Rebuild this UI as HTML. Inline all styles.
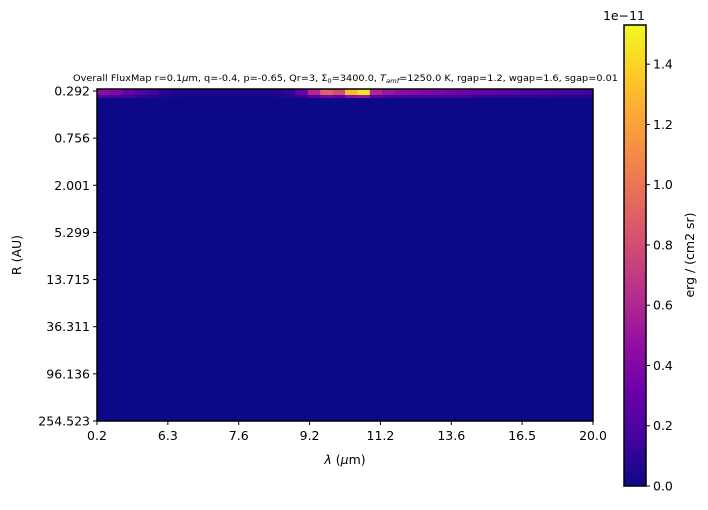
<!DOCTYPE html>
<html><head><meta charset="utf-8"><style>
body{margin:0;background:#fff;}
svg text{font-family:"DejaVu Sans","Liberation Sans",sans-serif;}
</style></head><body>
<svg id="c" width="708" height="505" xmlns="http://www.w3.org/2000/svg">
<defs>
<linearGradient id="pl" x1="0" y1="1" x2="0" y2="0">
<stop offset="0" stop-color="#0d0887"/><stop offset="0.1" stop-color="#41049d"/><stop offset="0.2" stop-color="#6a00a8"/><stop offset="0.3" stop-color="#8f0da4"/><stop offset="0.4" stop-color="#b12a90"/><stop offset="0.5" stop-color="#cc4778"/><stop offset="0.6" stop-color="#e16462"/><stop offset="0.7" stop-color="#f2844b"/><stop offset="0.8" stop-color="#fca636"/><stop offset="0.9" stop-color="#fcce25"/><stop offset="1" stop-color="#f0f921"/>
</linearGradient>
</defs>
<g id="plot"></g>
</svg>
<script>
const xTickLabels=["0.2","6.3","7.6","9.2","11.2","13.6","16.5","20.0"];
const yTickLabels=["0.292","0.756","2.001","5.299","13.715","36.311","96.136","254.523"];
const cbTicks=[0,0.2,0.4,0.6,0.8,1.0,1.2,1.4];
const topRow=[0.45,0.4,0.3,0.2,0.15,0.08,0.05,0.04,0.04,0.04,0.04,0.04,0.05,0.05,0.06,0.1,0.3,0.6,0.9,0.8,1.3,1.45,0.6,0.5,0.45,0.42,0.4,0.38,0.35,0.33,0.3,0.28,0.26,0.25,0.22,0.2,0.2,0.18,0.16,0.15];
const secondRow=[0.2,0.18,0.14,0.1,0.07,0.04,0.03,0.02,0.02,0.02,0.02,0.02,0.02,0.02,0.03,0.05,0.12,0.25,0.35,0.3,0.45,0.5,0.25,0.2,0.18,0.17,0.16,0.15,0.14,0.13,0.12,0.11,0.1,0.1,0.09,0.08,0.08,0.07,0.07,0.06];
const vmax=1.53;
const stops=[[13,8,135],[65,4,157],[106,0,168],[143,13,164],[177,42,144],[204,71,120],[225,100,98],[242,132,75],[252,166,54],[252,206,37],[240,249,33]];
function cmap(v){let t=Math.max(0,Math.min(1,v/vmax))*10;let i=Math.min(9,Math.floor(t)),f=t-i;const a=stops[i],b=stops[i+1];return `rgb(${a.map((x,k)=>Math.round(x+(b[k]-x)*f)).join(',')})`;}
const X0=97,X1=593,Y0=89,Y1=421;
const svg=document.getElementById('c'),g=document.getElementById('plot');
const NS="http://www.w3.org/2000/svg";
function mk(t,at,txt){const e=document.createElementNS(NS,t);for(const k in at)e.setAttribute(k,at[k]);if(txt!=null)e.textContent=txt;g.appendChild(e);return e;}
const xs=i=>X0+(X1-X0)*i/(xTickLabels.length-1);
const ys=i=>91+(Y1-91)*i/(yTickLabels.length-1);
let bg=mk('rect',{x:X0,y:Y0,width:X1-X0,height:Y1-Y0,fill:cmap(0)});


const cw=(X1-X0)/topRow.length;
topRow.forEach((v,i)=>{const r=mk('rect',{x:X0+i*cw,y:Y0,width:cw+0.5,height:6,fill:cmap(v)});

});
secondRow.forEach((v,i)=>{const r=mk('rect',{x:X0+i*cw,y:Y0+6,width:cw+0.5,height:3,fill:cmap(v)});

});
let fr=mk('rect',{x:X0,y:Y0,width:X1-X0,height:Y1-Y0,fill:'none',stroke:'#000','stroke-width':1.5});


xTickLabels.forEach((l,i)=>{mk('line',{x1:xs(i),x2:xs(i),y1:Y1,y2:Y1+4,stroke:'#000'});
const t=mk('text',{x:xs(i),y:Y1+19,'text-anchor':'middle','font-size':12.5},l);

});
yTickLabels.forEach((l,i)=>{mk('line',{x1:X0-4,x2:X0,y1:ys(i),y2:ys(i),stroke:'#000'});
const t=mk('text',{x:X0-7,y:ys(i)+4.5,'text-anchor':'end','font-size':12.5},l);

});
let xt=mk('text',{x:345,y:464,'text-anchor':'middle','font-size':12.5},'');
xt.innerHTML='<tspan font-style="italic">λ</tspan> (<tspan font-style="italic">μ</tspan>m)';


let yt=mk('text',{x:21,y:255,'text-anchor':'middle','font-size':12.5,transform:'rotate(-90 21 255)'},'R (AU)');


let ti=mk('text',{x:73,y:81,'font-size':8.6,textLength:545,lengthAdjust:'spacingAndGlyphs'},'');
ti.innerHTML='Overall FluxMap r=0.1<tspan font-style="italic">μ</tspan>m, q=-0.4, p=-0.65, Qr=3, Σ<tspan font-size="6" dy="2">0</tspan><tspan dy="-2">=3400.0, </tspan><tspan font-style="italic">T</tspan><tspan font-size="6" dy="2" font-style="italic">amf</tspan><tspan dy="-2">=1250.0 K, rgap=1.2, wgap=1.6, sgap=0.01</tspan>';


const CX=624,CW=22,CT=25,CB=486;
let cb=mk('rect',{x:CX,y:CT,width:CW,height:CB-CT,fill:'url(#pl)',stroke:'#000','stroke-width':1.5});


const cy=v=>CB-(CB-CT)*v/vmax;
cbTicks.forEach(v=>{mk('line',{x1:CX+CW,x2:CX+CW+4,y1:cy(v),y2:cy(v),stroke:'#000'});
const t=mk('text',{x:CX+CW+7,y:cy(v)+4.5,'font-size':12.5},v.toFixed(1));

});
let ex=mk('text',{x:624,y:20,'font-size':12.5,'text-anchor':'middle'},'1e−11');


let cl=mk('text',{x:694,y:255,'text-anchor':'middle','font-size':12.5,transform:'rotate(-90 694 255)'},'erg / (cm2 sr)');


</script>
</body></html>
